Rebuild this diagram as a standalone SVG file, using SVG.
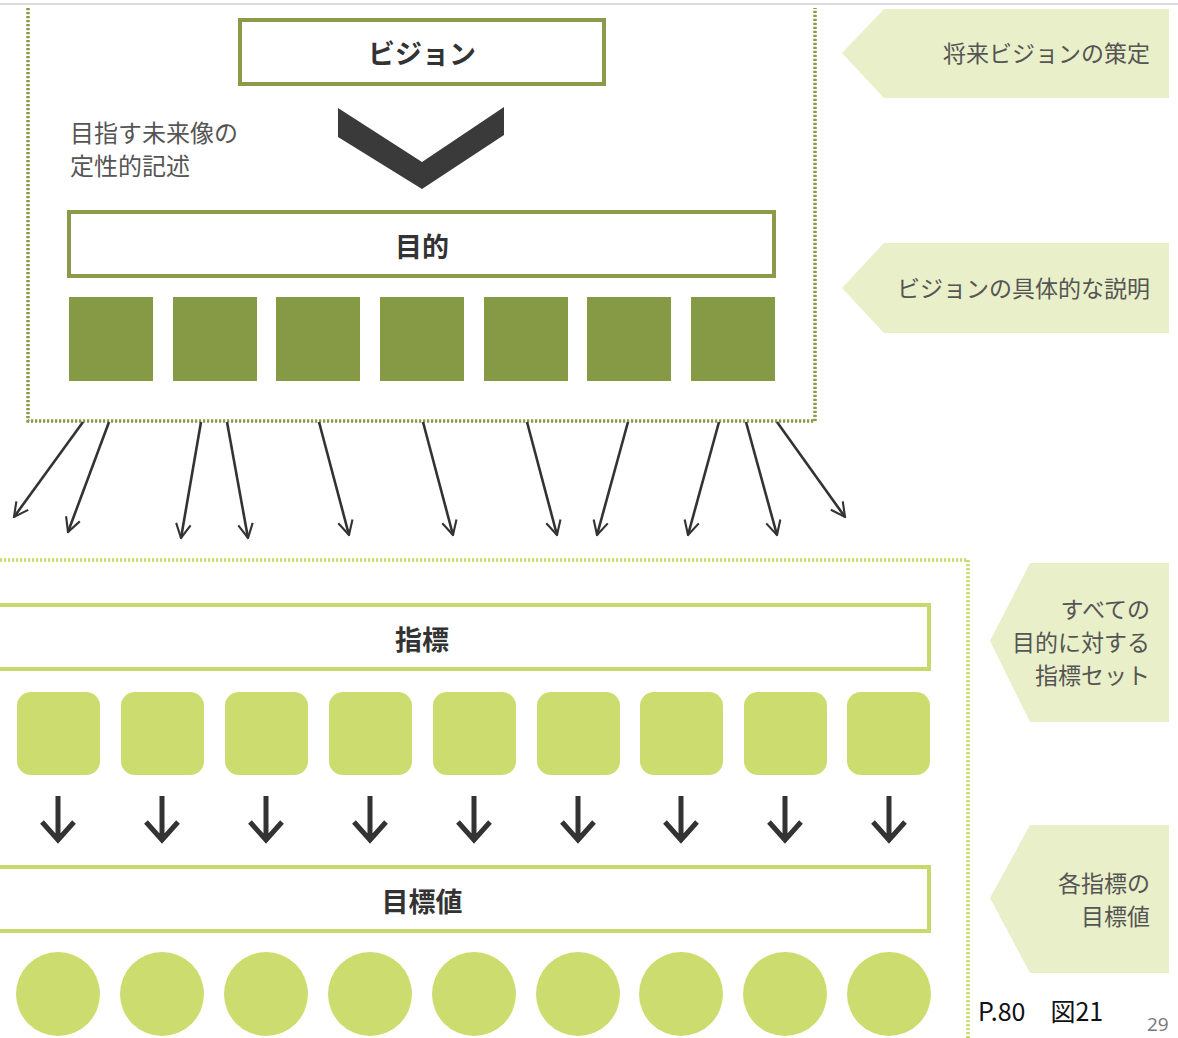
<svg xmlns="http://www.w3.org/2000/svg" width="1178" height="1038" viewBox="0 0 1178 1038">
<defs>
<style>
.t{font-family:"Noto Sans CJK JP","Noto Sans",sans-serif;}
.title{font-size:27px;font-weight:700;fill:#333;text-anchor:middle;dominant-baseline:central;}
.lbl{font-size:23px;fill:#555;text-anchor:end;}
.note{font-size:24px;fill:#555;}
.dk{fill:#869a46;}
.lt{fill:#cddc6e;}
.boxD{fill:#fff;stroke:#8a9a48;stroke-width:4;}
.boxL{fill:#fff;stroke:#c8d96c;stroke-width:4;}
.tag{fill:#e9efc8;}
.fan{stroke:#333;stroke-width:2.6;fill:none;marker-end:url(#oa);}
.dn{stroke:#333;stroke-width:5;fill:none;stroke-linecap:butt;}
</style>
<marker id="oa" viewBox="0 0 12 12" refX="11" refY="6" markerWidth="6.5" markerHeight="6.5" markerUnits="strokeWidth" orient="auto">
<path d="M1,0.8 L11,6 L1,11.2" fill="none" stroke="#333" stroke-width="1.5"/>
</marker>
</defs>
<rect width="1178" height="1038" fill="#fff"/>
<line x1="0" y1="4" x2="1178" y2="4" stroke="#dcdcdc" stroke-width="2"/>

<g id="frame-top"><path d="M28,8 V421 H815 V8" fill="none" stroke="#8a9a48" stroke-width="3.5" stroke-dasharray="2.2 1.8"/></g>
<g id="frame-bottom"><path d="M0,560 H968 V1038" fill="none" stroke="#c8d96c" stroke-width="3.5" stroke-dasharray="2.2 1.8"/></g>

<g id="vision"><rect class="boxD" x="240" y="20" width="364" height="64"/><text class="t title" x="422" y="52">ビジョン</text></g>
<g id="chevron"><polygon points="338,108 422,162 504,107 504,135 422,189 338,137" fill="#3a3a3a"/></g>
<g id="vision-note"><text class="t note" x="70" y="142">目指す未来像の</text><text class="t note" x="70" y="175">定性的記述</text></g>

<g id="purpose"><rect class="boxD" x="69" y="212" width="705" height="64"/><text class="t title" x="422" y="245">目的</text></g>
<g id="purpose-items">
<rect class="dk" x="69" y="297" width="84" height="84"/>
<rect class="dk" x="173" y="297" width="84" height="84"/>
<rect class="dk" x="276" y="297" width="84" height="84"/>
<rect class="dk" x="380" y="297" width="84" height="84"/>
<rect class="dk" x="484" y="297" width="84" height="84"/>
<rect class="dk" x="587" y="297" width="84" height="84"/>
<rect class="dk" x="691" y="297" width="84" height="84"/>
</g>

<g id="connectors">
<line class="fan" x1="83" y1="422" x2="14" y2="517"/>
<line class="fan" x1="109" y1="422" x2="68" y2="532"/>
<line class="fan" x1="201" y1="422" x2="181" y2="538"/>
<line class="fan" x1="227" y1="422" x2="248" y2="538"/>
<line class="fan" x1="319" y1="422" x2="349" y2="535"/>
<line class="fan" x1="423" y1="422" x2="453" y2="535"/>
<line class="fan" x1="527" y1="422" x2="557" y2="535"/>
<line class="fan" x1="628" y1="422" x2="597" y2="535"/>
<line class="fan" x1="719" y1="422" x2="688" y2="535"/>
<line class="fan" x1="746" y1="422" x2="777" y2="535"/>
<line class="fan" x1="777" y1="422" x2="845" y2="517"/>
<g id="down-arrows">
<path class="dn" d="M58,796 V840 M42,822 L58,840 L74,822"/>
<path class="dn" d="M162,796 V840 M146,822 L162,840 L178,822"/>
<path class="dn" d="M266,796 V840 M250,822 L266,840 L282,822"/>
<path class="dn" d="M370,796 V840 M354,822 L370,840 L386,822"/>
<path class="dn" d="M474,796 V840 M458,822 L474,840 L490,822"/>
<path class="dn" d="M578,796 V840 M562,822 L578,840 L594,822"/>
<path class="dn" d="M681,796 V840 M665,822 L681,840 L697,822"/>
<path class="dn" d="M785,796 V840 M769,822 L785,840 L801,822"/>
<path class="dn" d="M889,796 V840 M873,822 L889,840 L905,822"/>
</g>
</g>

<g id="indicator"><rect class="boxL" x="-4" y="605" width="933" height="64"/><text class="t title" x="422" y="638">指標</text></g>
<g id="indicator-items">
<rect class="lt" x="17" y="692" width="83" height="83" rx="14"/>
<rect class="lt" x="121" y="692" width="83" height="83" rx="14"/>
<rect class="lt" x="225" y="692" width="83" height="83" rx="14"/>
<rect class="lt" x="329" y="692" width="83" height="83" rx="14"/>
<rect class="lt" x="433" y="692" width="83" height="83" rx="14"/>
<rect class="lt" x="537" y="692" width="83" height="83" rx="14"/>
<rect class="lt" x="640" y="692" width="83" height="83" rx="14"/>
<rect class="lt" x="744" y="692" width="83" height="83" rx="14"/>
<rect class="lt" x="847" y="692" width="83" height="83" rx="14"/>
</g>

<g id="target"><rect class="boxL" x="-4" y="867" width="933" height="64"/><text class="t title" x="422" y="900">目標値</text></g>
<g id="target-items">
<circle class="lt" cx="58" cy="994" r="42"/>
<circle class="lt" cx="162" cy="994" r="42"/>
<circle class="lt" cx="266" cy="994" r="42"/>
<circle class="lt" cx="370" cy="994" r="42"/>
<circle class="lt" cx="474" cy="994" r="42"/>
<circle class="lt" cx="578" cy="994" r="42"/>
<circle class="lt" cx="681" cy="994" r="42"/>
<circle class="lt" cx="785" cy="994" r="42"/>
<circle class="lt" cx="889" cy="994" r="42"/>
</g>

<g id="tag1"><polygon class="tag" points="842,53 884,9 1169,9 1169,98 884,98"/><text class="t lbl" x="1150" y="62">将来ビジョンの策定</text></g>
<g id="tag2"><polygon class="tag" points="842,288 884,243 1169,243 1169,333 884,333"/><text class="t lbl" x="1150" y="297">ビジョンの具体的な説明</text></g>
<g id="tag3"><polygon class="tag" points="990,641 1030,563 1169,563 1169,722 1030,722"/>
<text class="t lbl" x="1150" y="618">すべての</text><text class="t lbl" x="1150" y="651">目的に対する</text><text class="t lbl" x="1150" y="684">指標セット</text></g>
<g id="tag4"><polygon class="tag" points="990,898 1030,825 1169,825 1169,973 1030,973"/>
<text class="t lbl" x="1150" y="892">各指標の</text><text class="t lbl" x="1150" y="925">目標値</text></g>

<text class="t" x="978" y="1021" font-size="25" fill="#111">P.80　図21</text>
<text x="1147" y="1031" font-family="'Open Sans','Liberation Sans',sans-serif" font-size="19" fill="#777">29</text>
</svg>
